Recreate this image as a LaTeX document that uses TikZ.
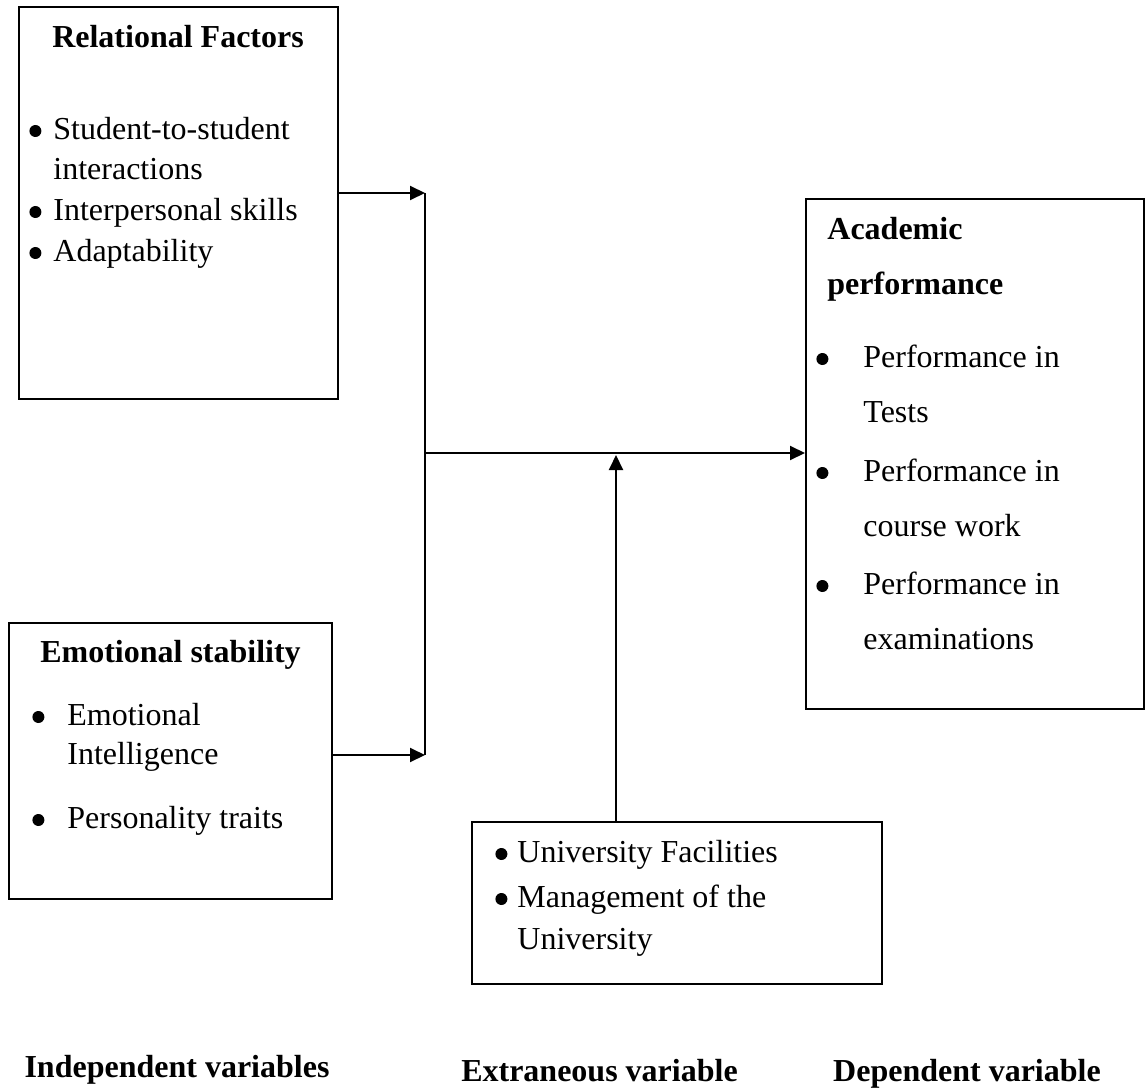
\documentclass[tikz,border=0pt]{standalone}
\usepackage{fontspec}
\setmainfont{Liberation Serif}
\usetikzlibrary{arrows.meta}

\tikzset{
  box/.style={draw, line width=1pt, inner sep=0pt},
  txt/.style={anchor=west, inner sep=0pt, yshift=-1pt, text height=0.7em, text depth=0.25em, font=\fontsize{16}{19}\selectfont},
  head/.style={txt, anchor=center, font=\fontsize{16}{19}\selectfont\bfseries},
  dot/.style={circle, fill, inner sep=0pt, minimum size=6pt, anchor=west, yshift=1pt},
  arr/.style={line width=1pt, -{Triangle[length=7.5pt,width=7pt]}}
}

\begin{document}
\begin{tikzpicture}[x=0.5pt, y=-0.5pt]
  \useasboundingbox (0,0) rectangle (1145,1091);

  \node[box, minimum width=159.5pt, minimum height=196pt] (rel) at (178.5,203) {};
  \node[box, minimum width=161.5pt, minimum height=138pt] (emo) at (170.5,761) {};
  \node[box, minimum width=169pt, minimum height=255pt] (acad) at (975,454) {};
  \node[box, minimum width=205pt, minimum height=81pt] (ext) at (677,903) {};

  \node[head] (rel-t) at (178,41) {Relational Factors};
  \node[dot] (rel-b1) at (29,133) {};
  \node[txt] (rel-1) at (53,133) {Student-to-student};
  \node[txt] (rel-2) at (53,173.5) {interactions};
  \node[dot] (rel-b2) at (29,214) {};
  \node[txt] (rel-3) at (53,214) {Interpersonal skills};
  \node[dot] (rel-b3) at (29,255) {};
  \node[txt] (rel-4) at (53,255) {Adaptability};

  \node[head] (emo-t) at (170.5,656) {Emotional stability};
  \node[dot] (emo-b1) at (32,719) {};
  \node[txt] (emo-1) at (67,719) {Emotional};
  \node[txt] (emo-2) at (67,758) {Intelligence};
  \node[dot] (emo-b2) at (32,822) {};
  \node[txt] (emo-3) at (67,822) {Personality traits};

  \node[txt, font=\fontsize{16}{19}\selectfont\bfseries] (acad-t1) at (827,233) {Academic};
  \node[txt, font=\fontsize{16}{19}\selectfont\bfseries] (acad-t2) at (827,288) {performance};
  \node[dot] (acad-b1) at (816,361) {};
  \node[txt] (acad-1) at (863,361) {Performance in};
  \node[txt] (acad-2) at (863,416) {Tests};
  \node[dot] (acad-b2) at (816,475) {};
  \node[txt] (acad-3) at (863,475) {Performance in};
  \node[txt] (acad-4) at (863,530) {course work};
  \node[dot] (acad-b3) at (816,588) {};
  \node[txt] (acad-5) at (863,588) {Performance in};
  \node[txt] (acad-6) at (863,643) {examinations};

  \node[dot] (ext-b1) at (495,856) {};
  \node[txt] (ext-1) at (517,856) {University Facilities};
  \node[dot] (ext-b2) at (495,901) {};
  \node[txt] (ext-2) at (517,901) {Management of the};
  \node[txt] (ext-3) at (517,943) {University};

  \node[head] (indep) at (177,1071) {Independent variables};
  \node[head] (extr) at (599.5,1075) {Extraneous variable};
  \node[head] (dep) at (967,1075) {Dependent variable};

  \coordinate (j1) at (425,193);
  \coordinate (j2) at (425,755);
  \coordinate (j3) at (425,453);
  \coordinate (up) at (616,455);

  \draw[arr] (rel.east |- j1) -- (j1);
  \draw[arr] (emo.east |- j2) -- (j2);
  \draw[line width=0.8pt] (j1) -- (j2);
  \draw[arr] (j3) -- (j3 -| acad.west);
  \draw[arr] (up |- ext.north) -- (up);
\end{tikzpicture}
\end{document}
